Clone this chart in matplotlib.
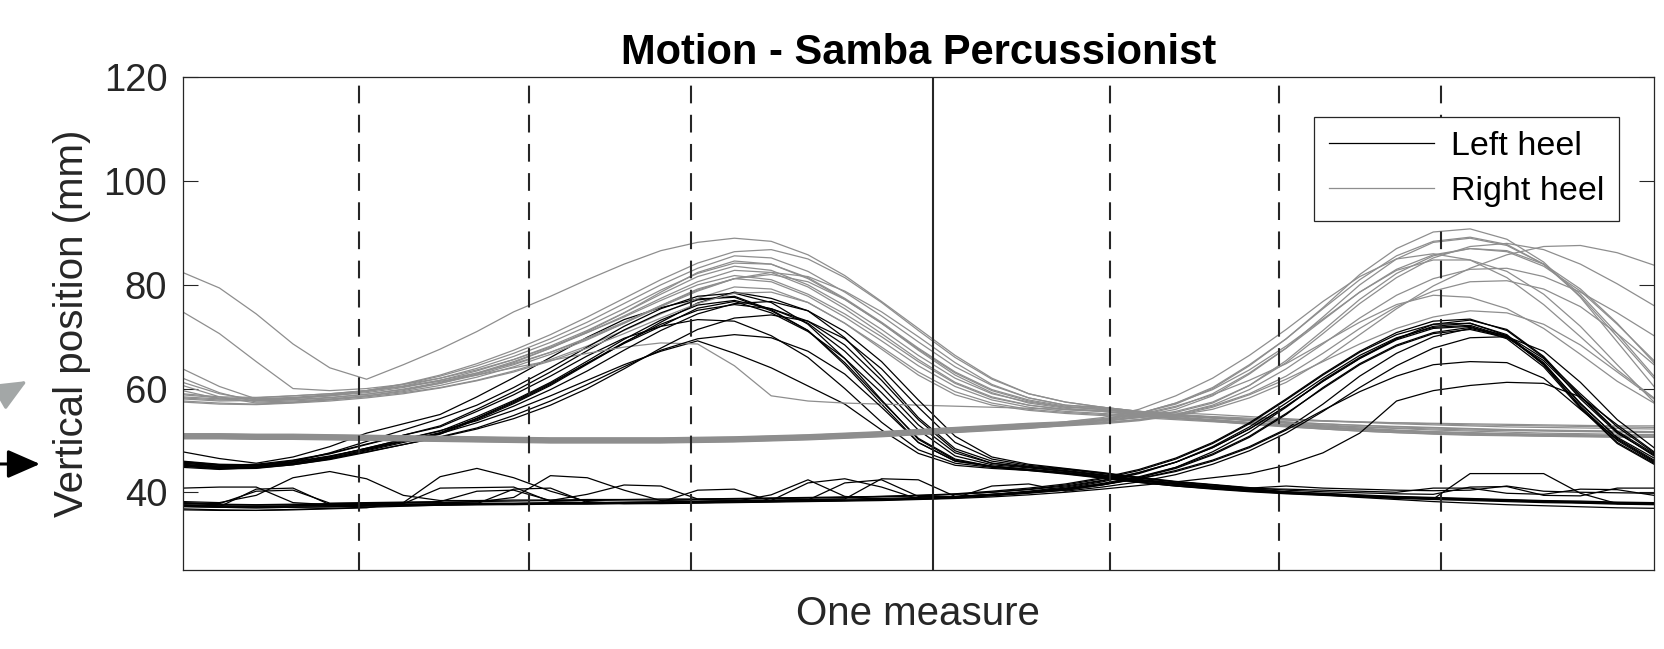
import numpy as np
import matplotlib
matplotlib.use("Agg")
import matplotlib.pyplot as plt
from itertools import zip_longest

plt.rcParams['font.family'] = ['Liberation Sans', 'DejaVu Sans']

# sample positions along one measure (percent of the measure)
measure_pos = np.linspace(0, 100, 41)

# beat markers (percent of the measure)
beat_lines = [11.98, 23.52, 34.56, 63.06, 74.53, 85.5]
downbeat_line = 51.01

# left heel, lift around the first half of the measure
left_heel_lift1 = [
    [45.3, 44.8, 44.9, 45.6, 46.8, 48.5, 50.2, 51.8, 54.6, 57.7, 61.2, 65.3, 69.5, 73.2, 76.1, 77.0, 75.4, 72.6, 67.2, 60.4,
     53.0, 47.6, 45.6, 44.8, 44.1, 43.3, 42.4, 41.7, 41.1, 40.6, 40.1, 39.8, 39.5, 39.2, 39.0, 38.8, 38.6, 38.4, 38.3, 38.1, 38.0],
    [45.8, 45.2, 45.4, 46.2, 47.5, 49.3, 51.0, 52.6, 55.6, 58.8, 62.4, 66.3, 69.7, 72.0, 73.3, 73.0, 70.2, 66.0, 60.0, 53.5,
     48.2, 45.6, 44.8, 44.2, 43.5, 42.7, 41.9, 41.2, 40.7, 40.2, 39.8, 39.5, 39.2, 38.9, 38.7, 43.6, 43.6, 43.6, 39.8, 37.8, 37.7],
    [45.0, 44.5, 44.6, 45.3, 46.4, 48.0, 49.6, 51.2, 54.0, 57.1, 60.6, 64.7, 68.8, 72.8, 76.5, 78.6, 77.4, 75.0, 69.8, 62.4,
     54.4, 48.4, 46.0, 45.0, 44.4, 43.6, 42.7, 42.0, 41.4, 40.8, 41.2, 40.8, 40.6, 40.4, 40.3, 40.4, 41.2, 40.2, 40.0, 39.9, 39.8],
    [47.8, 46.5, 45.6, 46.8, 48.8, 51.4, 53.2, 55.0, 58.4, 62.1, 66.0, 69.9, 73.3, 75.6, 77.3, 77.6, 75.0, 71.2, 65.0, 57.6,
     50.4, 46.4, 45.0, 44.4, 43.8, 43.0, 42.2, 41.5, 40.9, 40.4, 40.0, 39.6, 39.3, 39.0, 38.8, 38.6, 38.4, 38.2, 38.1, 37.9, 37.8],
    [46.0, 45.4, 45.3, 45.9, 47.0, 48.4, 49.9, 51.3, 53.4, 55.8, 58.6, 61.6, 64.6, 67.2, 69.2, 66.8, 64.0, 60.5, 57.0, 52.0,
     47.5, 45.2, 44.6, 44.2, 43.7, 43.0, 42.3, 41.7, 41.1, 40.6, 40.1, 39.7, 39.4, 39.1, 38.9, 38.7, 38.5, 38.3, 38.1, 38.0, 37.9],
    [45.6, 45.0, 44.9, 45.5, 46.6, 48.2, 49.8, 51.4, 54.2, 57.3, 60.8, 64.9, 68.9, 72.4, 75.1, 76.2, 75.4, 73.0, 68.4, 61.6,
     54.0, 48.0, 45.6, 44.9, 44.2, 43.4, 42.5, 41.8, 41.2, 40.7, 40.6, 40.4, 40.2, 40.0, 40.8, 40.8, 39.8, 39.6, 40.6, 40.5, 39.4],
    [45.2, 44.7, 44.8, 45.5, 46.6, 48.2, 49.9, 51.5, 54.3, 57.5, 61.0, 64.9, 68.7, 72.0, 75.5, 76.8, 74.6, 71.0, 65.8, 59.2,
     52.0, 47.0, 45.3, 44.7, 44.0, 43.2, 42.3, 41.6, 41.0, 40.5, 40.0, 39.6, 39.3, 39.0, 38.8, 38.6, 38.4, 38.2, 38.0, 37.9, 37.8],
    [45.4, 44.9, 45.2, 46.1, 47.4, 49.2, 51.0, 52.8, 56.0, 59.4, 63.2, 67.3, 71.3, 74.6, 77.1, 77.8, 75.2, 71.2, 64.6, 57.0,
     49.6, 46.0, 45.0, 44.4, 43.7, 42.9, 42.0, 41.3, 40.8, 40.3, 39.9, 39.6, 39.3, 39.0, 38.8, 38.6, 38.4, 38.2, 38.1, 37.9, 37.8],
    [45.6, 45.2, 45.1, 45.6, 46.5, 47.8, 49.2, 50.6, 52.2, 54.2, 56.8, 60.0, 63.8, 67.8, 71.4, 73.6, 74.2, 73.0, 69.6, 63.8,
     56.4, 49.6, 46.4, 45.2, 44.5, 43.7, 42.8, 42.0, 41.4, 40.8, 40.0, 39.5, 39.0, 38.6, 38.2, 37.9, 37.6, 37.4, 37.2, 37.0, 36.9],
    [44.8, 44.4, 44.8, 45.9, 47.6, 49.8, 52.0, 54.2, 56.8, 60.2, 64.0, 68.0, 72.0, 75.4, 77.8, 78.4, 76.6, 72.4, 65.8, 57.8,
     50.2, 46.2, 45.0, 44.3, 43.6, 42.8, 41.9, 41.2, 40.6, 40.1, 39.7, 39.4, 39.1, 38.8, 38.6, 38.4, 38.2, 38.0, 37.9, 37.7, 37.6],
    [45.9, 45.3, 45.2, 45.8, 46.9, 48.5, 50.2, 51.9, 53.8, 56.6, 59.8, 63.4, 67.4, 71.2, 74.4, 76.4, 76.8, 75.0, 71.0, 65.2,
     57.8, 50.8, 46.8, 45.4, 44.6, 43.8, 42.9, 42.1, 41.5, 40.9, 40.4, 40.1, 39.9, 39.7, 39.6, 41.0, 41.1, 39.4, 39.3, 40.8, 40.8],
    [45.1, 44.6, 44.7, 45.3, 46.3, 47.7, 49.2, 50.7, 52.4, 54.8, 57.6, 60.8, 64.2, 67.4, 69.6, 70.4, 69.8, 67.2, 62.8, 56.4,
     49.6, 46.0, 45.0, 44.4, 43.8, 43.0, 42.2, 41.5, 40.9, 40.4, 40.0, 39.6, 39.3, 39.0, 38.8, 38.6, 38.4, 38.2, 38.0, 37.9, 37.8],
]

# left heel, lift near the end of the measure
left_heel_lift2 = [
    [37.5, 37.3, 37.2, 37.3, 37.4, 37.5, 37.6, 37.7, 37.8, 37.8, 37.9, 37.9, 38.0, 38.0, 38.1, 38.2, 39.5, 42.4, 39.2, 38.6,
     38.8, 39.0, 39.4, 39.9, 40.4, 41.4, 42.6, 44.2, 46.2, 48.8, 52.2, 57.0, 62.4, 66.8, 70.0, 71.6, 70.0, 65.0, 57.0, 50.6, 46.6],
    [36.8, 36.6, 36.5, 36.6, 36.8, 37.0, 38.0, 43.0, 44.6, 42.8, 40.2, 38.2, 37.8, 37.9, 38.0, 38.1, 38.2, 38.3, 38.4, 38.6,
     38.8, 39.1, 39.6, 40.2, 41.0, 42.2, 43.8, 45.8, 48.6, 52.2, 56.6, 61.4, 65.8, 69.6, 72.4, 73.2, 71.4, 66.2, 58.6, 51.8, 47.4],
    [37.8, 37.6, 37.5, 37.6, 37.7, 37.8, 37.9, 38.0, 38.1, 39.0, 43.2, 42.8, 40.4, 38.4, 38.3, 38.4, 38.5, 38.6, 38.7, 38.8,
     39.0, 39.2, 39.6, 40.0, 40.6, 41.6, 42.8, 44.6, 47.2, 50.6, 55.0, 60.2, 64.8, 68.4, 70.8, 71.8, 70.2, 65.8, 59.0, 52.6, 47.6],
    [40.8, 41.0, 41.0, 38.0, 37.6, 37.7, 37.8, 40.8, 40.9, 41.0, 38.2, 38.0, 38.0, 38.1, 38.2, 38.3, 38.4, 41.8, 42.6, 41.0,
     38.7, 38.9, 39.3, 39.8, 40.4, 41.4, 42.8, 44.8, 47.8, 51.6, 56.4, 61.6, 66.0, 69.6, 72.0, 72.6, 70.4, 64.6, 56.6, 50.0, 45.8],
    [37.2, 37.1, 37.0, 37.1, 37.2, 37.3, 37.4, 37.5, 37.6, 37.6, 37.7, 37.7, 37.8, 37.8, 37.9, 38.0, 38.1, 38.2, 38.3, 38.4,
     38.6, 38.8, 39.1, 39.5, 40.0, 40.6, 41.3, 42.0, 42.8, 43.6, 45.2, 47.6, 51.4, 57.6, 59.6, 60.6, 61.2, 61.0, 58.4, 53.0, 47.8],
    [37.6, 37.4, 37.3, 37.4, 37.5, 37.6, 37.7, 37.8, 37.9, 37.9, 38.0, 38.0, 38.1, 38.1, 38.2, 38.3, 38.4, 38.5, 41.8, 42.4,
     39.2, 39.1, 39.5, 40.0, 40.6, 41.5, 42.6, 44.0, 46.0, 48.6, 52.0, 55.8, 59.4, 62.4, 64.6, 65.2, 65.0, 62.0, 56.0, 50.2, 46.0],
    [38.0, 37.8, 40.2, 40.4, 37.9, 38.0, 38.1, 38.2, 40.2, 40.4, 38.4, 38.4, 38.5, 38.5, 38.6, 38.7, 38.8, 38.9, 39.0, 39.2,
     39.4, 39.7, 40.2, 40.8, 41.6, 42.8, 44.4, 46.6, 49.6, 53.4, 58.0, 62.8, 67.2, 70.8, 73.0, 73.4, 71.2, 66.0, 58.0, 51.4, 47.2],
    [37.4, 37.2, 40.6, 40.8, 37.6, 37.5, 37.6, 37.7, 37.8, 40.6, 40.8, 38.0, 38.0, 38.1, 40.4, 40.6, 38.3, 38.4, 38.5, 38.6,
     38.8, 39.1, 39.5, 40.1, 40.8, 42.0, 43.6, 45.8, 48.8, 52.6, 57.2, 62.0, 66.4, 69.8, 71.8, 72.2, 70.0, 64.8, 57.2, 50.4, 46.2],
    [36.6, 36.5, 36.5, 36.7, 36.9, 37.1, 37.3, 37.5, 37.6, 37.7, 37.8, 37.9, 38.0, 38.1, 38.2, 38.3, 38.4, 38.5, 38.7, 42.6,
     42.4, 39.2, 39.6, 40.1, 40.7, 41.7, 43.0, 44.8, 47.4, 50.8, 55.2, 60.0, 64.6, 68.2, 70.6, 71.4, 69.8, 65.4, 58.4, 51.6, 47.0],
    [37.9, 37.7, 37.6, 37.7, 37.8, 37.9, 38.0, 38.1, 38.2, 38.3, 38.4, 39.6, 41.4, 41.2, 38.7, 38.7, 38.8, 38.9, 39.0, 39.1,
     39.3, 39.6, 40.0, 40.6, 41.4, 42.6, 44.2, 46.4, 49.4, 53.2, 57.8, 62.6, 67.0, 70.4, 72.4, 72.6, 70.2, 64.6, 56.4, 49.6, 45.6],
    [37.3, 37.1, 37.0, 37.1, 37.2, 37.4, 37.5, 37.6, 37.7, 37.7, 37.8, 37.8, 37.9, 37.9, 38.0, 38.1, 38.2, 38.3, 38.4, 38.5,
     38.7, 38.9, 41.2, 41.6, 40.2, 41.0, 42.0, 43.4, 45.4, 48.0, 51.4, 55.6, 60.2, 64.4, 67.8, 69.8, 70.0, 67.2, 61.2, 54.0, 48.6],
    [38.2, 38.0, 39.4, 42.8, 44.0, 42.6, 39.4, 38.4, 38.4, 38.5, 38.5, 38.6, 38.6, 38.7, 38.7, 38.8, 38.9, 39.0, 39.1, 39.2,
     39.4, 39.6, 40.0, 40.5, 41.2, 42.3, 43.8, 45.8, 48.6, 52.2, 56.6, 61.4, 65.8, 69.4, 71.6, 72.0, 69.6, 64.2, 56.2, 49.4, 45.4],
]

# right heel, lift around the first half of the measure
right_heel_lift1 = [
    [82.4, 79.4, 74.4, 68.6, 64.0, 61.8, 64.6, 67.6, 71.0, 74.8, 77.8, 81.0, 84.0, 86.6, 88.2, 89.0, 88.4, 85.8, 81.8, 76.8,
     71.6, 66.4, 62.0, 59.0, 57.4, 56.4, 55.6, 55.0, 54.6, 54.3, 54.0, 53.8, 53.6, 53.4, 53.2, 53.0, 52.9, 52.8, 52.7, 52.6, 52.5],
    [74.8, 70.6, 65.2, 60.0, 59.6, 60.0, 60.8, 62.0, 63.6, 65.6, 68.0, 70.8, 73.8, 77.0, 80.0, 81.8, 81.0, 78.2, 74.4, 70.0,
     65.2, 61.0, 58.2, 56.8, 55.9, 55.6, 54.8, 54.2, 53.8, 53.4, 53.1, 52.8, 52.6, 52.4, 52.2, 52.0, 51.9, 51.8, 51.7, 51.6, 51.5],
    [63.8, 60.4, 58.0, 58.2, 58.6, 59.2, 60.2, 61.6, 63.4, 65.6, 68.2, 71.2, 74.6, 78.2, 81.6, 83.6, 82.8, 80.0, 76.0, 71.4,
     66.4, 62.0, 59.0, 57.4, 56.4, 56.2, 55.4, 54.8, 54.3, 53.8, 53.3, 52.8, 52.4, 52.0, 51.7, 51.5, 51.3, 51.2, 51.1, 51.0, 51.0],
    [62.0, 59.2, 57.4, 57.6, 58.0, 58.6, 59.4, 60.6, 62.2, 64.2, 66.6, 69.4, 72.6, 76.0, 79.2, 81.2, 80.6, 77.8, 73.8, 69.2,
     64.4, 60.4, 57.8, 56.4, 55.6, 55.2, 54.8, 54.3, 54.0, 53.4, 52.9, 52.4, 52.0, 51.7, 51.4, 51.2, 51.0, 50.9, 50.8, 50.7, 50.7],
    [60.6, 58.4, 57.2, 57.4, 57.9, 58.6, 59.6, 61.0, 62.8, 65.0, 67.8, 71.0, 74.6, 78.6, 82.4, 84.6, 84.0, 81.2, 77.2, 72.6,
     67.6, 63.0, 59.6, 57.6, 56.4, 56.0, 55.2, 54.4, 53.7, 53.1, 52.6, 52.2, 51.8, 51.5, 51.3, 51.1, 51.0, 50.9, 50.8, 50.8, 50.7],
    [57.6, 57.2, 57.0, 57.3, 57.8, 58.4, 59.2, 60.2, 61.6, 63.4, 65.6, 68.2, 71.2, 74.4, 77.4, 79.6, 79.2, 76.6, 72.6, 68.0,
     63.2, 59.4, 57.2, 56.0, 55.4, 55.0, 54.6, 54.2, 53.8, 53.2, 52.7, 52.2, 51.8, 51.5, 51.2, 51.0, 50.9, 50.8, 50.7, 50.6, 50.6],
    [58.4, 58.0, 58.2, 58.6, 59.0, 59.6, 60.4, 61.6, 63.0, 64.8, 67.0, 69.6, 72.6, 75.8, 78.8, 81.2, 82.4, 81.6, 78.8, 74.8,
     70.0, 65.0, 60.8, 58.2, 56.8, 56.2, 55.4, 54.8, 54.3, 53.9, 53.5, 53.2, 52.9, 52.7, 52.5, 52.3, 52.1, 52.0, 51.9, 51.8, 51.7],
    [59.0, 58.4, 58.3, 58.6, 59.0, 59.6, 60.4, 61.4, 62.6, 64.0, 65.4, 66.8, 68.0, 68.8, 68.6, 64.4, 58.6, 57.6, 57.2, 57.0,
     56.8, 56.6, 56.4, 56.2, 56.0, 55.8, 55.6, 55.3, 55.0, 54.6, 54.2, 53.8, 53.5, 53.2, 53.0, 52.8, 52.6, 52.5, 52.4, 52.3, 52.2],
    [59.6, 58.0, 57.6, 57.8, 58.2, 58.9, 59.9, 61.2, 63.0, 65.2, 67.8, 70.8, 74.0, 77.4, 80.6, 82.8, 82.4, 79.6, 75.4, 70.6,
     65.6, 61.2, 58.4, 56.8, 56.0, 55.6, 55.0, 54.4, 53.9, 53.4, 53.0, 52.6, 52.2, 51.9, 51.6, 51.4, 51.2, 51.1, 51.0, 50.9, 50.8],
    [58.8, 58.2, 58.0, 58.3, 58.8, 59.6, 60.8, 62.4, 64.4, 66.8, 69.6, 72.8, 76.4, 80.0, 83.2, 85.6, 85.2, 82.6, 78.6, 74.0,
     69.0, 64.2, 60.6, 58.2, 56.8, 56.4, 55.6, 55.0, 54.5, 54.0, 53.6, 53.2, 52.9, 52.6, 52.4, 52.2, 52.0, 51.9, 51.8, 51.7, 51.6],
    [58.2, 57.8, 57.8, 58.1, 58.6, 59.4, 60.5, 62.0, 63.9, 66.2, 68.9, 72.0, 75.4, 79.0, 82.2, 84.2, 84.0, 81.4, 77.4, 72.8,
     67.8, 63.2, 59.8, 57.8, 56.6, 55.9, 55.2, 54.6, 54.0, 53.5, 53.0, 52.6, 52.2, 51.9, 51.6, 51.4, 51.2, 51.0, 50.9, 50.8, 50.7],
    [57.4, 57.0, 56.9, 57.2, 57.6, 58.2, 59.0, 60.1, 61.5, 63.2, 65.3, 67.8, 70.6, 73.6, 76.4, 78.4, 78.6, 76.6, 72.6, 67.6,
     62.6, 58.8, 56.8, 55.8, 55.2, 54.8, 54.4, 54.0, 53.6, 53.2, 52.8, 52.4, 52.1, 51.8, 51.6, 51.4, 51.2, 51.0, 50.9, 50.8, 50.7],
    [58.0, 57.6, 57.7, 58.1, 58.7, 59.6, 60.9, 62.6, 64.8, 67.4, 70.4, 73.8, 77.4, 81.0, 84.2, 86.4, 86.8, 85.0, 81.4, 76.6,
     71.2, 66.0, 61.8, 59.0, 57.4, 56.4, 55.6, 55.0, 54.4, 53.9, 53.4, 53.0, 52.6, 52.3, 52.0, 51.8, 51.6, 51.4, 51.3, 51.2, 51.1],
    [61.2, 59.0, 57.8, 57.9, 58.3, 58.9, 59.8, 61.0, 62.6, 64.6, 67.0, 69.8, 72.8, 76.0, 79.0, 81.2, 82.0, 80.6, 77.2, 72.6,
     67.4, 62.6, 59.2, 57.2, 56.2, 55.6, 55.1, 54.7, 54.4, 54.1, 53.9, 53.7, 53.5, 53.4, 53.3, 53.2, 53.1, 53.0, 52.9, 52.8, 52.8],
]

# right heel, flat then lift near the end of the measure
right_heel_lift2 = [
    [51.0, 51.0, 50.9, 50.9, 50.8, 50.7, 50.6, 50.5, 50.4, 50.3, 50.2, 50.2, 50.2, 50.2, 50.3, 50.4, 50.6, 50.8, 51.1, 51.4,
     51.8, 52.2, 52.6, 53.0, 53.3, 54.0, 55.2, 57.2, 60.2, 64.6, 69.6, 75.6, 82.0, 87.0, 90.2, 90.8, 88.8, 84.4, 77.6, 69.0, 60.4],
    [50.7, 50.7, 50.6, 50.6, 50.5, 50.4, 50.3, 50.2, 50.1, 50.0, 49.9, 49.9, 49.9, 49.9, 50.0, 50.1, 50.3, 50.5, 50.8, 51.1,
     51.5, 51.9, 52.3, 52.7, 53.2, 53.8, 54.6, 56.0, 58.6, 62.8, 67.8, 73.8, 80.0, 85.0, 88.2, 89.0, 87.6, 84.0, 78.2, 70.6, 62.4],
    [51.1, 51.1, 51.0, 51.0, 50.9, 50.8, 50.7, 50.6, 50.5, 50.4, 50.3, 50.3, 50.3, 50.3, 50.4, 50.5, 50.7, 50.9, 51.2, 51.5,
     51.9, 52.3, 52.7, 53.1, 53.1, 53.6, 54.4, 55.4, 57.2, 60.6, 65.4, 71.2, 77.2, 82.2, 85.6, 87.0, 86.6, 84.0, 79.2, 72.6, 65.0],
    [50.8, 50.8, 50.7, 50.7, 50.6, 50.5, 50.4, 50.3, 50.2, 50.1, 50.0, 50.0, 50.0, 50.0, 50.1, 50.2, 50.4, 50.6, 50.9, 51.2,
     51.6, 52.0, 52.4, 52.8, 53.4, 54.0, 55.2, 57.2, 59.8, 63.6, 68.2, 73.4, 78.6, 82.8, 84.8, 84.8, 82.6, 78.2, 72.0, 64.6, 57.4],
    [50.6, 50.6, 50.5, 50.5, 50.4, 50.3, 50.2, 50.1, 50.0, 49.9, 49.8, 49.8, 49.8, 49.8, 49.9, 50.0, 50.2, 50.4, 50.7, 51.0,
     51.4, 51.8, 52.2, 52.6, 53.0, 53.4, 54.0, 54.8, 56.0, 58.2, 61.2, 65.4, 70.4, 75.4, 79.8, 83.2, 85.8, 87.4, 87.6, 86.2, 83.8],
    [50.9, 50.9, 50.8, 50.8, 50.7, 50.6, 50.5, 50.4, 50.3, 50.2, 50.1, 50.1, 50.1, 50.1, 50.2, 50.3, 50.5, 50.7, 51.0, 51.3,
     51.7, 52.1, 52.5, 52.9, 53.2, 53.8, 54.4, 55.6, 57.4, 60.6, 65.0, 70.6, 76.4, 81.4, 85.2, 87.4, 88.0, 86.8, 84.0, 80.2, 76.0],
    [50.5, 50.5, 50.4, 50.4, 50.3, 50.2, 50.1, 50.0, 49.9, 49.8, 49.7, 49.7, 49.7, 49.7, 49.8, 49.9, 50.1, 50.3, 50.6, 50.9,
     51.3, 51.7, 52.1, 52.5, 53.0, 53.4, 54.0, 55.0, 56.6, 59.0, 62.4, 66.8, 71.6, 75.8, 78.8, 80.6, 80.8, 79.2, 75.8, 70.6, 64.6],
    [51.2, 51.2, 51.1, 51.1, 51.0, 50.9, 50.8, 50.7, 50.6, 50.5, 50.4, 50.4, 50.4, 50.4, 50.5, 50.6, 50.8, 51.0, 51.3, 51.6,
     52.0, 52.4, 52.8, 53.2, 53.4, 54.0, 55.0, 56.6, 58.8, 61.6, 64.8, 68.8, 72.8, 76.2, 78.0, 77.6, 75.4, 71.6, 66.6, 61.4, 57.2],
    [50.6, 50.7, 50.6, 50.5, 50.4, 50.4, 50.3, 50.2, 50.1, 50.0, 49.9, 49.8, 49.8, 49.9, 50.0, 50.1, 50.3, 50.5, 50.8, 51.1,
     51.5, 51.9, 52.3, 52.8, 53.6, 54.4, 56.0, 58.6, 62.0, 66.4, 71.4, 76.8, 81.6, 85.0, 86.0, 84.8, 81.4, 76.2, 70.0, 63.6, 58.2],
    [51.3, 51.3, 51.2, 51.2, 51.1, 51.0, 50.9, 50.8, 50.7, 50.6, 50.5, 50.5, 50.5, 50.5, 50.6, 50.7, 50.9, 51.1, 51.4, 51.7,
     52.1, 52.5, 52.9, 53.3, 53.6, 54.2, 55.2, 57.0, 60.0, 64.4, 69.6, 75.4, 81.0, 85.6, 88.4, 89.2, 87.8, 84.0, 77.8, 70.0, 62.0],
    [50.3, 50.3, 50.2, 50.2, 50.1, 50.0, 49.9, 49.8, 49.7, 49.6, 49.5, 49.5, 49.5, 49.5, 49.6, 49.7, 49.9, 50.1, 50.4, 50.7,
     51.1, 51.5, 51.9, 52.3, 52.9, 53.4, 54.0, 55.0, 56.8, 59.8, 63.8, 68.6, 73.6, 78.0, 81.2, 83.0, 83.2, 81.6, 78.6, 74.6, 70.2],
    [50.9, 50.8, 50.8, 50.7, 50.7, 50.6, 50.5, 50.4, 50.3, 50.2, 50.1, 50.0, 50.0, 50.1, 50.2, 50.3, 50.5, 50.7, 51.0, 51.3,
     51.7, 52.1, 52.5, 52.9, 53.3, 53.9, 54.8, 56.4, 59.0, 63.0, 67.8, 73.2, 78.6, 83.0, 85.8, 87.0, 86.4, 83.6, 78.8, 72.4, 65.4],
    [50.4, 50.4, 50.3, 50.3, 50.2, 50.1, 50.0, 49.9, 49.8, 49.7, 49.6, 49.6, 49.6, 49.6, 49.7, 49.8, 50.0, 50.2, 50.5, 50.8,
     51.2, 51.6, 52.0, 52.4, 52.8, 53.2, 53.8, 54.8, 56.4, 58.8, 61.8, 65.2, 68.6, 71.6, 73.8, 75.0, 74.6, 72.4, 68.4, 63.2, 58.0],
]

left_color = '#000000'
right_color = '#8e8e8e'
axis_color = '#262626'

fig = plt.figure(figsize=(16.65, 6.49), dpi=100)
ax = fig.add_axes([0.1097, 0.1217, 0.8837, 0.7589])

left_traces = left_heel_lift1 + left_heel_lift2
right_traces = right_heel_lift1 + right_heel_lift2

left_handle = None
right_handle = None
# trials plotted alternately, like the original recording loop
for lt, rt in zip_longest(left_traces, right_traces):
    if lt is not None:
        l, = ax.plot(measure_pos, lt, color=left_color, lw=0.9)
        if left_handle is None:
            left_handle = l
    if rt is not None:
        r, = ax.plot(measure_pos, rt, color=right_color, lw=0.9)
        if right_handle is None:
            right_handle = r

for b in beat_lines:
    ax.axvline(b, color=axis_color, lw=1.5, linestyle=(0, (8.5, 5.5)))
ax.axvline(downbeat_line, color=axis_color, lw=1.5)

ax.set_xlim(0, 100)
ax.set_ylim(25, 120)
ax.set_xticks([])
ax.set_yticks([40, 60, 80, 100, 120])
ax.tick_params(axis='y', direction='in', length=10.6, width=0.8, right=True,
               labelsize=27.5, pad=11, colors=axis_color)
for s in ax.spines.values():
    s.set_color(axis_color)
    s.set_linewidth(0.9)

ax.set_ylabel('Vertical position (mm)', fontsize=29, color=axis_color, labelpad=9)
ax.set_xlabel('One measure', fontsize=29, color=axis_color, labelpad=18)
ax.set_title('Motion - Samba Percussionist', fontsize=30, fontweight='bold', pad=10)

leg = ax.legend([left_handle, right_handle], ['Left heel', 'Right heel'],
                loc='upper right', bbox_to_anchor=(0.976, 0.9198), borderaxespad=0,
                fontsize=24.5, fancybox=False, edgecolor=axis_color, framealpha=1,
                handlelength=3.1, handletextpad=0.5, labelspacing=0.4, borderpad=0.42)
leg.get_frame().set_linewidth(0.9)

# markers pointing at the two resting heel heights
ax.annotate('', xy=(40, 185), xycoords='figure pixels', xytext=(-10, 185),
            textcoords='figure pixels', annotation_clip=False,
            arrowprops=dict(arrowstyle='-|>,head_length=0.8,head_width=0.35', color='black',
                            lw=2.2, mutation_scale=25, shrinkA=0, shrinkB=0))
ax.annotate('', xy=(27, 268), xycoords='figure pixels', xytext=(-25, 238),
            textcoords='figure pixels', annotation_clip=False,
            arrowprops=dict(arrowstyle='-|>,head_length=0.8,head_width=0.35', color='#a3a7a7',
                            lw=2.2, mutation_scale=25, shrinkA=0, shrinkB=0))

fig.savefig('out.png', dpi=100)
